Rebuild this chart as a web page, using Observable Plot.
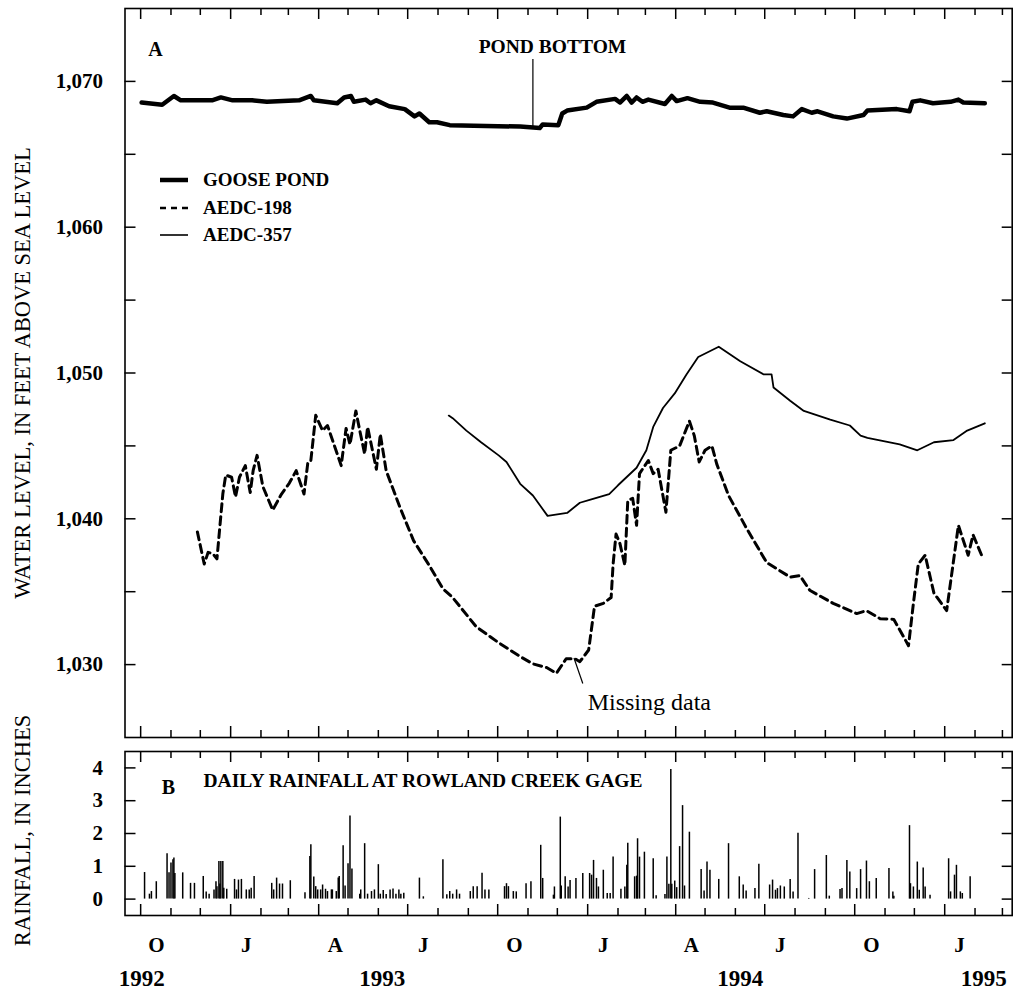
<!DOCTYPE html>
<html><head><meta charset="utf-8">
<script src="https://cdn.jsdelivr.net/npm/d3@7"></script>
<script src="https://cdn.jsdelivr.net/npm/@observablehq/plot@0.6"></script>
<style>
body{margin:0;background:#fff;}
#chart{position:relative;width:1017px;height:1002px;overflow:hidden;background:#fff;}
#chart svg{position:absolute;left:0;}
</style></head><body><div id="chart"></div>
<script>
// ---------------- data ----------------
const goosePond = [["1992-10-02",1068.55],["1992-10-23",1068.4],["1992-11-04",1069.0],["1992-11-11",1068.7],["1992-11-30",1068.7],["1992-12-13",1068.7],["1992-12-22",1068.9],["1993-01-03",1068.7],["1993-01-23",1068.7],["1993-02-07",1068.6],["1993-03-12",1068.7],["1993-03-24",1069.0],["1993-03-27",1068.7],["1993-04-20",1068.5],["1993-04-27",1068.9],["1993-05-04",1069.0],["1993-05-07",1068.6],["1993-05-19",1068.75],["1993-05-24",1068.5],["1993-05-30",1068.7],["1993-06-12",1068.3],["1993-06-28",1068.1],["1993-07-08",1067.6],["1993-07-13",1067.8],["1993-07-23",1067.2],["1993-07-31",1067.2],["1993-08-13",1067.0],["1993-10-24",1066.9],["1993-11-13",1066.8],["1993-11-16",1067.05],["1993-12-02",1067.0],["1993-12-06",1067.8],["1993-12-11",1068.0],["1993-12-31",1068.2],["1994-01-10",1068.6],["1994-01-29",1068.8],["1994-02-03",1068.55],["1994-02-10",1069.0],["1994-02-15",1068.55],["1994-02-20",1068.9],["1994-02-26",1068.6],["1994-03-04",1068.75],["1994-03-21",1068.45],["1994-03-28",1069.0],["1994-04-02",1068.65],["1994-04-13",1068.85],["1994-04-26",1068.6],["1994-05-09",1068.55],["1994-05-26",1068.2],["1994-06-09",1068.2],["1994-06-26",1067.85],["1994-07-03",1067.95],["1994-07-20",1067.7],["1994-07-30",1067.6],["1994-08-08",1068.1],["1994-08-18",1067.85],["1994-08-24",1067.95],["1994-09-09",1067.6],["1994-09-23",1067.45],["1994-10-10",1067.7],["1994-10-14",1068.0],["1994-11-13",1068.1],["1994-11-26",1067.95],["1994-11-29",1068.6],["1994-12-07",1068.7],["1994-12-20",1068.5],["1995-01-07",1068.6],["1995-01-15",1068.75],["1995-01-20",1068.55],["1995-02-11",1068.5]];

const aedc198 = [["1992-11-28",1039.1],["1992-12-05",1036.9],["1992-12-09",1037.7],["1992-12-14",1037.6],["1992-12-18",1037.25],["1992-12-24",1041.7],["1992-12-27",1043.0],["1993-01-02",1042.85],["1993-01-06",1041.5],["1993-01-10",1042.85],["1993-01-16",1043.65],["1993-01-21",1041.8],["1993-01-24",1043.3],["1993-01-28",1044.35],["1993-02-03",1042.2],["1993-02-13",1040.6],["1993-02-22",1041.7],["1993-03-02",1042.45],["1993-03-09",1043.3],["1993-03-17",1041.7],["1993-03-21",1043.9],["1993-03-24",1044.0],["1993-03-29",1047.1],["1993-04-05",1046.05],["1993-04-10",1046.4],["1993-04-24",1043.65],["1993-04-29",1046.2],["1993-05-03",1045.1],["1993-05-09",1047.4],["1993-05-13",1046.05],["1993-05-18",1044.45],["1993-05-21",1046.3],["1993-05-30",1043.4],["1993-06-03",1045.8],["1993-06-09",1043.3],["1993-06-23",1040.8],["1993-07-07",1038.5],["1993-07-24",1036.7],["1993-08-06",1035.2],["1993-08-16",1034.6],["1993-09-09",1032.6],["1993-10-02",1031.5],["1993-10-24",1030.55],["1993-11-06",1030.05],["1993-11-20",1029.8],["1993-11-30",1029.4],["1993-12-10",1030.4],["1993-12-19",1030.4],["1993-12-24",1030.2],["1994-01-02",1031.0],["1994-01-08",1034.0],["1994-01-17",1034.2],["1994-01-25",1034.6],["1994-01-27",1036.9],["1994-01-30",1038.95],["1994-02-03",1038.3],["1994-02-08",1036.8],["1994-02-11",1041.25],["1994-02-16",1041.4],["1994-02-20",1039.55],["1994-02-23",1043.1],["1994-03-04",1044.0],["1994-03-09",1043.1],["1994-03-14",1043.4],["1994-03-22",1040.45],["1994-03-27",1044.7],["1994-04-05",1045.0],["1994-04-15",1046.7],["1994-04-20",1045.7],["1994-04-25",1043.9],["1994-05-01",1044.7],["1994-05-08",1045.0],["1994-05-13",1043.75],["1994-05-25",1041.6],["1994-06-12",1039.4],["1994-07-03",1037.0],["1994-07-27",1036.0],["1994-08-06",1036.1],["1994-08-16",1035.1],["1994-09-09",1034.2],["1994-10-03",1033.5],["1994-10-13",1033.7],["1994-10-27",1033.15],["1994-11-10",1033.1],["1994-11-25",1031.3],["1994-11-30",1034.2],["1994-12-05",1036.9],["1994-12-12",1037.5],["1994-12-21",1034.9],["1995-01-03",1033.7],["1995-01-15",1039.55],["1995-01-25",1037.5],["1995-01-30",1038.9],["1995-02-09",1037.3]];

const aedc357 = [["1993-08-12",1047.08],["1993-08-16",1046.9],["1993-08-30",1046.05],["1993-09-14",1045.25],["1993-10-02",1044.35],["1993-10-10",1043.9],["1993-10-24",1042.4],["1993-11-06",1041.6],["1993-11-21",1040.2],["1993-12-11",1040.4],["1993-12-24",1041.1],["1994-01-03",1041.3],["1994-01-23",1041.7],["1994-02-01",1042.3],["1994-02-20",1043.5],["1994-03-02",1044.7],["1994-03-09",1046.3],["1994-03-19",1047.6],["1994-03-31",1048.6],["1994-04-12",1049.9],["1994-04-24",1051.1],["1994-05-15",1051.8],["1994-06-06",1050.8],["1994-06-30",1049.9],["1994-07-08",1049.9],["1994-07-10",1049.0],["1994-07-27",1048.1],["1994-08-10",1047.4],["1994-09-06",1046.8],["1994-09-26",1046.4],["1994-10-07",1045.7],["1994-10-14",1045.55],["1994-11-16",1045.1],["1994-12-04",1044.7],["1994-12-21",1045.25],["1995-01-10",1045.4],["1995-01-24",1046.05],["1995-02-11",1046.55]];

const rainfall = [["1992-10-05",0.81],["1992-10-10",0.15],["1992-10-12",0.23],["1992-10-17",0.53],["1992-10-28",1.38],["1992-10-30",0.8],["1992-11-01",1.1],["1992-11-03",1.2],["1992-11-04",1.25],["1992-11-05",0.78],["1992-11-13",0.8],["1992-11-21",0.48],["1992-11-25",0.48],["1992-12-04",0.69],["1992-12-07",0.22],["1992-12-10",0.15],["1992-12-15",0.28],["1992-12-17",0.53],["1992-12-18",0.38],["1992-12-20",1.15],["1992-12-21",0.46],["1992-12-22",1.15],["1992-12-24",1.15],["1992-12-25",0.33],["1992-12-28",0.3],["1993-01-05",0.6],["1993-01-07",0.28],["1993-01-09",0.58],["1993-01-12",0.6],["1993-01-17",0.28],["1993-01-20",0.28],["1993-01-22",0.33],["1993-01-25",0.69],["1993-02-12",0.48],["1993-02-14",0.28],["1993-02-17",0.64],["1993-02-20",0.46],["1993-02-23",0.46],["1993-03-03",0.56],["1993-03-18",0.19],["1993-03-23",1.3],["1993-03-24",1.66],["1993-03-27",0.67],["1993-03-29",0.38],["1993-03-31",0.28],["1993-04-03",0.28],["1993-04-05",0.43],["1993-04-08",0.3],["1993-04-10",0.23],["1993-04-14",0.28],["1993-04-15",0.28],["1993-04-19",0.23],["1993-04-21",0.64],["1993-04-22",0.69],["1993-04-26",1.63],["1993-04-28",0.4],["1993-05-01",1.08],["1993-05-03",2.53],["1993-05-05",0.92],["1993-05-13",0.15],["1993-05-14",0.28],["1993-05-18",1.69],["1993-05-21",0.15],["1993-05-25",0.23],["1993-05-28",0.28],["1993-06-01",1.05],["1993-06-03",0.15],["1993-06-06",0.26],["1993-06-09",0.14],["1993-06-13",0.28],["1993-06-16",0.31],["1993-06-19",0.15],["1993-06-22",0.28],["1993-06-24",0.15],["1993-06-27",0.18],["1993-07-13",0.64],["1993-07-17",0.07],["1993-08-06",1.2],["1993-08-10",0.13],["1993-08-13",0.23],["1993-08-16",0.15],["1993-08-20",0.28],["1993-08-23",0.15],["1993-09-03",0.23],["1993-09-06",0.38],["1993-09-10",0.38],["1993-09-15",0.79],["1993-09-18",0.28],["1993-09-22",0.28],["1993-10-08",0.38],["1993-10-10",0.47],["1993-10-12",0.38],["1993-10-17",0.23],["1993-10-20",0.22],["1993-10-30",0.47],["1993-11-04",0.53],["1993-11-14",1.64],["1993-11-16",0.63],["1993-11-27",0.12],["1993-11-28",0.37],["1993-12-04",2.5],["1993-12-05",0.4],["1993-12-09",0.68],["1993-12-12",0.37],["1993-12-14",0.57],["1993-12-20",0.63],["1993-12-27",0.78],["1994-01-03",0.78],["1994-01-05",0.73],["1994-01-07",1.18],["1994-01-10",0.63],["1994-01-12",0.37],["1994-01-17",0.88],["1994-01-21",0.17],["1994-01-24",0.17],["1994-01-27",1.28],["1994-02-04",0.3],["1994-02-08",0.37],["1994-02-10",1.03],["1994-02-11",1.7],["1994-02-18",0.68],["1994-02-20",0.7],["1994-02-21",1.84],["1994-02-23",1.28],["1994-02-28",1.43],["1994-03-09",1.23],["1994-03-12",0.1],["1994-03-21",0.14],["1994-03-23",1.28],["1994-03-25",0.45],["1994-03-27",3.95],["1994-03-28",0.45],["1994-03-31",0.55],["1994-04-02",0.35],["1994-04-05",1.6],["1994-04-08",2.85],["1994-04-10",0.4],["1994-04-15",2.04],["1994-04-27",0.9],["1994-04-30",0.25],["1994-05-03",1.13],["1994-05-06",0.88],["1994-05-15",0.6],["1994-05-25",1.69],["1994-06-05",0.68],["1994-06-09",0.43],["1994-06-12",0.25],["1994-06-21",0.32],["1994-06-25",1.06],["1994-07-06",0.43],["1994-07-09",0.58],["1994-07-12",0.27],["1994-07-14",0.32],["1994-07-17",0.4],["1994-07-21",0.37],["1994-07-27",0.6],["1994-07-30",0.22],["1994-08-04",2.01],["1994-08-15",0.02],["1994-08-21",0.9],["1994-09-02",1.33],["1994-09-05",0.09],["1994-09-16",0.29],["1994-09-18",0.32],["1994-09-23",1.18],["1994-09-26",0.83],["1994-10-03",0.32],["1994-10-07",0.9],["1994-10-13",1.16],["1994-10-16",0.53],["1994-10-23",0.63],["1994-11-05",0.93],["1994-11-09",0.22],["1994-11-10",0.09],["1994-11-26",2.24],["1994-11-27",0.47],["1994-11-30",0.37],["1994-12-04",1.13],["1994-12-06",0.27],["1994-12-10",0.95],["1994-12-12",0.37],["1994-12-17",0.12],["1995-01-05",1.23],["1995-01-07",0.22],["1995-01-11",0.73],["1995-01-13",1.03],["1995-01-17",0.22],["1995-01-19",0.17],["1995-01-27",0.68]];

const xDomain = ["1992-09-15", "1995-03-11"];
const levelTicks = [1030, 1040, 1050, 1060, 1070];
const levelMinorTicks = [1030, 1035, 1040, 1045, 1050, 1055, 1060, 1065, 1070];
const rainTicks = [0, 1, 2, 3, 4];
const monthLabels = ["O", "J", "A", "J", "O", "J", "A", "J", "O", "J"];
const monthLabelDates = ["1992-10-17","1993-01-17","1993-04-18","1993-07-17","1993-10-18","1994-01-17","1994-04-17","1994-07-17","1994-10-18","1995-01-16"];
const yearLabels = ["1992", "1993", "1994", "1995"];
const yearLabelDates = ["1992-10-02","1993-06-05","1994-06-06","1995-02-10"];
const legendNames = ["GOOSE POND", "AEDC-198", "AEDC-357"];

// ---------------- helpers ----------------
const parse = d3.utcParse("%Y-%m-%d");
const toRows = (arr) => arr.map(([d, v]) => ({date: parse(d), value: v}));
const pond = toRows(goosePond), w198 = toRows(aedc198), w357 = toRows(aedc357), rain = toRows(rainfall);
const xdom = xDomain.map(parse);
const monthTicks = d3.utcMonth.range(new Date(Date.UTC(1992, 9, 1)), new Date(Date.UTC(1995, 2, 2)));
const mLab = monthLabelDates.map((d, i) => ({date: parse(d), text: monthLabels[i]}));
const yLab = yearLabelDates.map((d, i) => ({date: parse(d), text: yearLabels[i]}));
const FONT = "Liberation Serif, Times New Roman, serif";

const W = 1017, ML = 124.5, MR = 5.3;
const FW = W - ML - MR;                       // frame width, px
const msPerPx = (xdom[1] - xdom[0]) / FW;     // time per pixel on the shared x scale

// inward frame ticks drawn as rules (same mark type as the rainfall bars)
function frameTicks(yTicks, yDomain, FH) {
  const unitsPerPx = (yDomain[1] - yDomain[0]) / FH;
  const [y0, y1] = yDomain;
  const tk = monthTicks.map(d => ({date: d, len: (d.getUTCMonth() % 3 === 0 ? 11 : 7) * unitsPerPx}));
  const s = {stroke: "black", strokeWidth: 1.5};
  const xL = xdom[0], xR = xdom[1];
  const leftEnd = new Date(+xL + 11 * msPerPx), rightEnd = new Date(+xR - 10 * msPerPx);
  return [
    Plot.ruleX(tk, {...s, x: "date", y1: y1, y2: d => y1 - d.len}),
    Plot.ruleX(tk, {...s, x: "date", y1: y0, y2: d => y0 + d.len}),
    Plot.ruleY(yTicks, {...s, y: d => d, x1: xL, x2: leftEnd}),
    Plot.ruleY(yTicks, {...s, y: d => d, x1: rightEnd, x2: xR})
  ];
}

const chartDiv = document.getElementById("chart");

// ---------------- panel A ----------------
const HA = 745, MTA = 8, MBA = 8, YA = [1025, 1075];
const panelA = Plot.plot({
  width: W, height: HA,
  marginLeft: ML, marginRight: MR, marginTop: MTA, marginBottom: MBA,
  style: {fontFamily: FONT, background: "transparent", color: "black", overflow: "visible"},
  x: {type: "utc", domain: xdom, axis: null},
  y: {domain: YA},
  marks: [
    ...frameTicks(levelMinorTicks, YA, HA - MTA - MBA),
    Plot.axisY({anchor: "left", ticks: levelTicks, tickSize: 0, tickPadding: 22, tickFormat: d3.format(","), fontSize: 21, fontWeight: "bold", label: null}),
    Plot.text(["WATER LEVEL, IN FEET ABOVE SEA LEVEL"], {text: d => d, frameAnchor: "left", dx: -102, rotate: -90, textAnchor: "middle", lineAnchor: "middle", fontSize: 22.5}),
    Plot.line(pond, {x: "date", y: "value", stroke: "black", strokeWidth: 4.5, strokeLinejoin: "round", strokeLinecap: "round"}),
    Plot.line(w357, {x: "date", y: "value", stroke: "black", strokeWidth: 1.8, strokeLinejoin: "round"}),
    Plot.line(w198, {x: "date", y: "value", stroke: "black", strokeWidth: 3, strokeDasharray: "8,5"}),
    Plot.ruleX([parse("1993-11-06")], {x: d => d, y1: 1066.9, y2: 1071.5, strokeWidth: 1.2}),
    Plot.text(["POND BOTTOM"], {text: d => d, x: parse("1993-11-26"), y: 1072.4, fontSize: 19.5, fontWeight: "bold"}),
    Plot.link([0], {x1: parse("1993-12-18"), y1: 1030.45, x2: parse("1993-12-27"), y2: 1028.7, strokeWidth: 1.2}),
    Plot.text(["Missing data"], {text: d => d, x: parse("1994-03-05"), y: 1027.4, fontSize: 24}),
    Plot.text(["A"], {text: d => d, frameAnchor: "top-left", dx: 30.5, dy: 41.5, textAnchor: "middle", lineAnchor: "middle", fontSize: 20, fontWeight: "bold"}),
    Plot.frame({stroke: "black", strokeWidth: 1.6})
  ]
});
panelA.style.top = "0px";
chartDiv.appendChild(panelA);

// ---------------- panel B ----------------
const HB = 259, MTB = 8, MBB = 87, TOPB = 743, YB = [-0.5, 4.5];
const panelB = Plot.plot({
  width: W, height: HB,
  marginLeft: ML, marginRight: MR, marginTop: MTB, marginBottom: MBB,
  style: {fontFamily: FONT, background: "transparent", color: "black", overflow: "visible"},
  x: {type: "utc", domain: xdom},
  y: {domain: YB},
  marks: [
    ...frameTicks(rainTicks, YB, HB - MTB - MBB),
    Plot.axisY({anchor: "left", ticks: rainTicks, tickSize: 0, tickPadding: 22, tickFormat: d3.format("d"), fontSize: 21, fontWeight: "bold", label: null}),
    Plot.axisX(mLab, {x: "date", anchor: "bottom", tickSize: 0, tickPadding: 22, text: "text", fontSize: 21, fontWeight: "bold", label: null}),
    Plot.text(yLab, {x: "date", text: "text", frameAnchor: "bottom", dy: 70, fontSize: 23, fontWeight: "bold"}),
    Plot.text(["RAINFALL, IN INCHES"], {text: d => d, frameAnchor: "left", dx: -102, dy: -3, rotate: -90, textAnchor: "middle", lineAnchor: "middle", fontSize: 22.5}),
    Plot.ruleX(rain, {x: "date", y1: 0, y2: "value", stroke: "black", strokeWidth: 1.5}),
    Plot.text(["B"], {text: d => d, frameAnchor: "top-left", dx: 43.5, dy: 36, textAnchor: "middle", lineAnchor: "middle", fontSize: 20, fontWeight: "bold"}),
    Plot.text(["DAILY RAINFALL AT ROWLAND CREEK GAGE"], {text: d => d, frameAnchor: "top-left", dx: 78.5, dy: 29, textAnchor: "start", lineAnchor: "middle", fontSize: 19.5, fontWeight: "bold"}),
    Plot.frame({stroke: "black", strokeWidth: 1.6})
  ]
});
panelB.style.top = TOPB + "px";
chartDiv.appendChild(panelB);

// ---------------- legend (inside panel A) ----------------
const leg = d3.select(chartDiv).append("svg").attr("width", 360).attr("height", 260).style("top", "0px").style("left", "0px").style("pointer-events", "none");
const legendStyles = [{w: 4.5, dash: null}, {w: 2.5, dash: "6,5"}, {w: 1.6, dash: null}];
const rowsY = [180, 208, 235];
legendNames.forEach((name, i) => {
  leg.append("line").attr("x1", 160).attr("x2", 188).attr("y1", rowsY[i]).attr("y2", rowsY[i])
    .attr("stroke", "black").attr("stroke-width", legendStyles[i].w).attr("stroke-dasharray", legendStyles[i].dash);
  leg.append("text").attr("x", 203).attr("y", rowsY[i]).attr("dy", "0.34em")
    .attr("font-family", FONT).attr("font-size", 19).attr("font-weight", "bold").text(name);
});
</script>
</body></html>
